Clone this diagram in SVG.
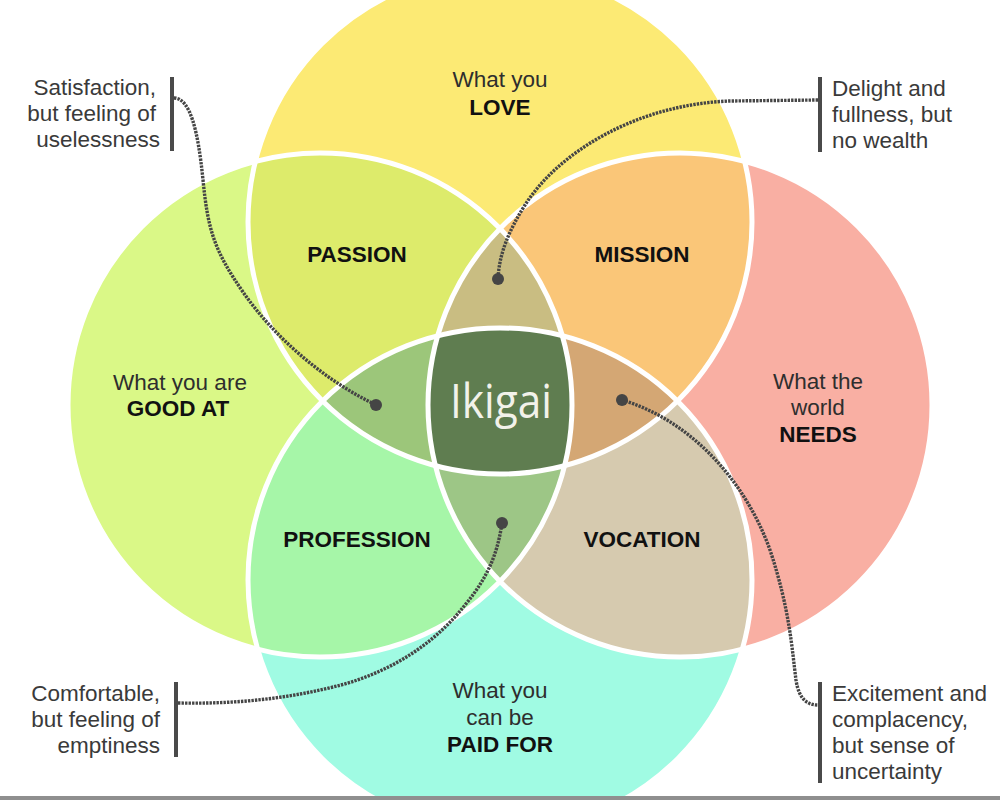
<svg xmlns="http://www.w3.org/2000/svg" width="1000" height="800" viewBox="0 0 1000 800">
<defs>
<clipPath id="cT"><circle cx="500" cy="222" r="252"/></clipPath>
<clipPath id="cL"><circle cx="320" cy="405" r="252"/></clipPath>
<clipPath id="cR"><circle cx="680" cy="405" r="252"/></clipPath>
<clipPath id="cB"><circle cx="500" cy="580" r="252"/></clipPath>
<style>
.edge{fill:none;stroke:#ffffff;stroke-width:5}
.lab{font-family:"Liberation Sans",Arial,sans-serif;font-size:22.5px;fill:#2e2e2e;text-anchor:middle}
.big{font-family:"Liberation Sans",Arial,sans-serif;font-size:22.5px;font-weight:bold;fill:#111111;text-anchor:middle}
.note{font-family:"Liberation Sans",Arial,sans-serif;font-size:22.5px;fill:#3a3a3a}
.bar{stroke:#4a4a4a;stroke-width:4;fill:none}
.wire{fill:none;stroke:#454545;stroke-width:3.4;stroke-dasharray:2.4 1.1}
.dot{fill:#454545}
</style>
</defs>
<rect width="1000" height="800" fill="#ffffff"/>
<g id="regions">
<circle cx="500" cy="222" r="252" fill="#FCEA74"/>
<circle cx="320" cy="405" r="252" fill="#DAF887"/>
<circle cx="680" cy="405" r="252" fill="#F9AFA3"/>
<circle cx="500" cy="580" r="252" fill="#A0FBE3"/>
<g clip-path="url(#cT)"><rect x="0" y="0" width="1000" height="800" fill="#DDEB6B" clip-path="url(#cL)"/></g>
<g clip-path="url(#cT)"><rect x="0" y="0" width="1000" height="800" fill="#FAC678" clip-path="url(#cR)"/></g>
<g clip-path="url(#cB)"><rect x="0" y="0" width="1000" height="800" fill="#A6F6A8" clip-path="url(#cL)"/></g>
<g clip-path="url(#cB)"><rect x="0" y="0" width="1000" height="800" fill="#D6CAAF" clip-path="url(#cR)"/></g>
<g clip-path="url(#cT)"><g clip-path="url(#cL)"><rect x="0" y="0" width="1000" height="800" fill="#C9BD82" clip-path="url(#cR)"/></g></g>
<g clip-path="url(#cT)"><g clip-path="url(#cL)"><rect x="0" y="0" width="1000" height="800" fill="#9CC67A" clip-path="url(#cB)"/></g></g>
<g clip-path="url(#cT)"><g clip-path="url(#cR)"><rect x="0" y="0" width="1000" height="800" fill="#D4A774" clip-path="url(#cB)"/></g></g>
<g clip-path="url(#cB)"><g clip-path="url(#cL)"><rect x="0" y="0" width="1000" height="800" fill="#9DC686" clip-path="url(#cR)"/></g></g>
<g clip-path="url(#cT)"><g clip-path="url(#cL)"><g clip-path="url(#cR)"><rect x="0" y="0" width="1000" height="800" fill="#5F7D50" clip-path="url(#cB)"/></g></g></g>
<circle class="edge" cx="500" cy="222" r="252"/>
<circle class="edge" cx="320" cy="405" r="252"/>
<circle class="edge" cx="680" cy="405" r="252"/>
<circle class="edge" cx="500" cy="580" r="252"/>
</g>
<g id="love"><text class="lab" x="500" y="87">What you</text><text class="big" x="500" y="115">LOVE</text></g>
<g id="good-at"><text class="lab" x="180" y="390">What you are</text><text class="big" x="178" y="416">GOOD AT</text></g>
<g id="needs"><text class="lab" x="818" y="389">What the</text><text class="lab" x="818" y="415">world</text><text class="big" x="818" y="442">NEEDS</text></g>
<g id="paid-for"><text class="lab" x="500" y="698">What you</text><text class="lab" x="500" y="725">can be</text><text class="big" x="500" y="752">PAID FOR</text></g>
<g id="passion"><text class="big" x="357" y="262">PASSION</text></g>
<g id="mission"><text class="big" x="642" y="262">MISSION</text></g>
<g id="profession"><text class="big" x="357" y="547">PROFESSION</text></g>
<g id="vocation"><text class="big" x="642" y="547">VOCATION</text></g>
<g id="ikigai"><text x="501" y="418" font-family="Open Sans, Liberation Sans, sans-serif" font-size="48" fill="#F2F2EA" text-anchor="middle" textLength="102" lengthAdjust="spacingAndGlyphs">Ikigai</text></g>
<g id="note-satisfaction">
<line class="bar" x1="172" y1="77" x2="172" y2="151"/>
<text class="note" text-anchor="end" x="156" y="95">Satisfaction,</text>
<text class="note" text-anchor="end" x="156" y="121">but feeling of</text>
<text class="note" text-anchor="end" x="160" y="147">uselessness</text>
</g>
<g id="note-delight">
<line class="bar" x1="820" y1="77" x2="820" y2="152"/>
<text class="note" x="832" y="96">Delight and</text>
<text class="note" x="832" y="122">fullness, but</text>
<text class="note" x="832" y="148">no wealth</text>
</g>
<g id="note-comfortable">
<line class="bar" x1="176" y1="682" x2="176" y2="757"/>
<text class="note" text-anchor="end" x="160" y="701">Comfortable,</text>
<text class="note" text-anchor="end" x="160" y="727">but feeling of</text>
<text class="note" text-anchor="end" x="160" y="753">emptiness</text>
</g>
<g id="note-excitement">
<line class="bar" x1="820" y1="682" x2="820" y2="783"/>
<text class="note" x="832" y="701">Excitement and</text>
<text class="note" x="832" y="727">complacency,</text>
<text class="note" x="832" y="753">but sense of</text>
<text class="note" x="832" y="779">uncertainty</text>
</g>
<g id="connectors">
<path class="wire" d="M174,98 C190,98 198,130 203,180 S214,250 243,292 S320,378 376,405"/>
<path class="wire" d="M818,100 L730,101 C640,104 560,150 525,205 C508,232 499,255 498,279"/>
<path class="wire" d="M178,703 C230,704 280,700 333,687 C380,676 430,650 465,605 C490,575 498,550 502,523"/>
<path class="wire" d="M622,400 C690,420 745,480 770,550 C790,610 792,650 796,680 C799,700 808,705 818,705"/>
<circle class="dot" cx="376" cy="405" r="6"/>
<circle class="dot" cx="498" cy="279" r="6"/>
<circle class="dot" cx="502" cy="523" r="6"/>
<circle class="dot" cx="622" cy="400" r="6"/>
</g>
<rect x="0" y="796" width="1000" height="4" fill="#8f8f8f"/>
</svg>
